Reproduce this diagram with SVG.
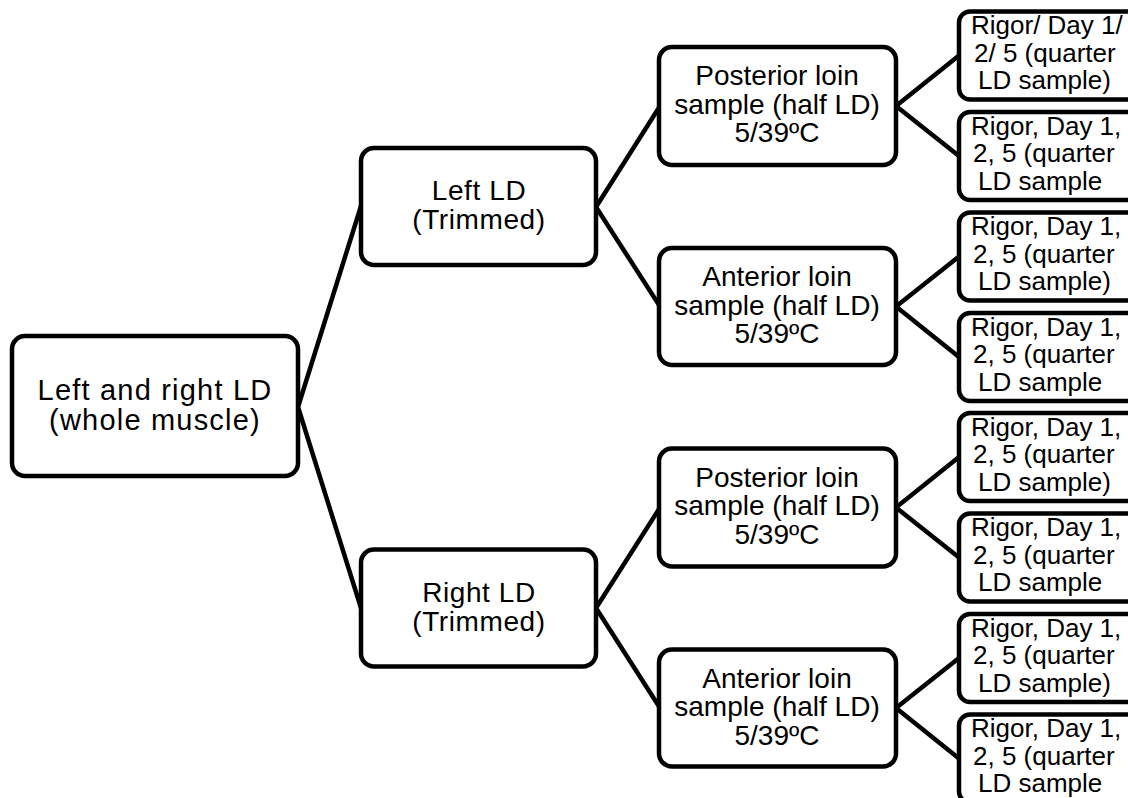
<svg xmlns="http://www.w3.org/2000/svg" width="1128" height="798" viewBox="0 0 1128 798">
<style>
  .box { fill: #fff; stroke: #000; stroke-width: 4.5; }
  .edge { stroke: #000; stroke-width: 4.5; fill: none; stroke-linecap: round; }
  text { font-family: "Liberation Sans", Arial, sans-serif; fill: #000; }
  .root { font-size: 29px; letter-spacing: 1.2px; text-anchor: middle; }
  .mid { font-size: 28px; letter-spacing: 0.6px; text-anchor: middle; }
  .smp { font-size: 28px; text-anchor: middle; }
  .leaf { font-size: 26px; }
</style>
<rect width="1128" height="798" fill="#fff"/>
<g id="connectors">
  <path class="edge" d="M298,407 L361,206 M298,407 L361,608"/>
  <path class="edge" d="M596,207 L660,106 M596,207 L660,306.5"/>
  <path class="edge" d="M596,608 L660,507.5 M596,608 L660,708"/>
  <path class="edge" d="M896,106 L959,55.5 M896,106 L959,156"/>
  <path class="edge" d="M896,306.5 L959,256.5 M896,306.5 L959,357"/>
  <path class="edge" d="M896,507.5 L959,457 M896,507.5 L959,557.5"/>
  <path class="edge" d="M896,708 L959,658 M896,708 L959,758.5"/>
</g>
<g id="root">
  <rect class="box" x="12" y="336" width="286" height="140" rx="13"/>
  <text class="root" x="155" y="400">Left and right LD</text>
  <text class="root" x="155" y="430">(whole muscle)</text>
</g>
<g id="left-ld">
  <rect class="box" x="361" y="148" width="235" height="117" rx="13"/>
  <text class="mid" x="479" y="200">Left LD</text>
  <text class="mid" x="479" y="229">(Trimmed)</text>
</g>
<g id="right-ld">
  <rect class="box" x="361" y="549.5" width="235" height="117" rx="13"/>
  <text class="mid" x="479" y="601.5">Right LD</text>
  <text class="mid" x="479" y="630.5">(Trimmed)</text>
</g>
<g id="left-posterior">
  <rect class="box" x="659" y="47" width="237" height="118" rx="13"/>
  <text class="smp" x="777" y="85">Posterior loin</text>
  <text class="smp" x="777" y="113.5">sample (half LD)</text>
  <text class="smp" x="777" y="142">5/39ºC</text>
</g>
<g id="left-anterior">
  <rect class="box" x="659" y="248" width="237" height="117" rx="13"/>
  <text class="smp" x="777" y="286">Anterior loin</text>
  <text class="smp" x="777" y="314.5">sample (half LD)</text>
  <text class="smp" x="777" y="343">5/39ºC</text>
</g>
<g id="right-posterior">
  <rect class="box" x="659" y="448.5" width="237" height="118" rx="13"/>
  <text class="smp" x="777" y="486.5">Posterior loin</text>
  <text class="smp" x="777" y="515">sample (half LD)</text>
  <text class="smp" x="777" y="543.5">5/39ºC</text>
</g>
<g id="right-anterior">
  <rect class="box" x="659" y="649.5" width="237" height="117" rx="13"/>
  <text class="smp" x="777" y="687.5">Anterior loin</text>
  <text class="smp" x="777" y="716">sample (half LD)</text>
  <text class="smp" x="777" y="744.5">5/39ºC</text>
</g>
<g id="leaf1">
  <rect class="box" x="959" y="11.5" width="190" height="88" rx="11"/>
  <text class="leaf" x="971" y="34">Rigor/ Day 1/</text>
  <text class="leaf" x="974" y="61.5">2/ 5 (quarter</text>
  <text class="leaf" x="978" y="89">LD sample)</text>
</g>
<g id="leaf2">
  <rect class="box" x="959" y="112" width="190" height="88" rx="11"/>
  <text class="leaf" x="971" y="134.5">Rigor, Day 1,</text>
  <text class="leaf" x="973" y="162">2, 5 (quarter</text>
  <text class="leaf" x="978" y="189.5">LD sample</text>
</g>
<g id="leaf3">
  <rect class="box" x="959" y="212.5" width="190" height="88" rx="11"/>
  <text class="leaf" x="971" y="235">Rigor, Day 1,</text>
  <text class="leaf" x="973" y="262.5">2, 5 (quarter</text>
  <text class="leaf" x="978" y="290">LD sample)</text>
</g>
<g id="leaf4">
  <rect class="box" x="959" y="313" width="190" height="88" rx="11"/>
  <text class="leaf" x="971" y="335.5">Rigor, Day 1,</text>
  <text class="leaf" x="973" y="363">2, 5 (quarter</text>
  <text class="leaf" x="978" y="390.5">LD sample</text>
</g>
<g id="leaf5">
  <rect class="box" x="959" y="413" width="190" height="88" rx="11"/>
  <text class="leaf" x="971" y="435.5">Rigor, Day 1,</text>
  <text class="leaf" x="973" y="463">2, 5 (quarter</text>
  <text class="leaf" x="978" y="490.5">LD sample)</text>
</g>
<g id="leaf6">
  <rect class="box" x="959" y="513.5" width="190" height="88" rx="11"/>
  <text class="leaf" x="971" y="536">Rigor, Day 1,</text>
  <text class="leaf" x="973" y="563.5">2, 5 (quarter</text>
  <text class="leaf" x="978" y="591">LD sample</text>
</g>
<g id="leaf7">
  <rect class="box" x="959" y="614" width="190" height="88" rx="11"/>
  <text class="leaf" x="971" y="636.5">Rigor, Day 1,</text>
  <text class="leaf" x="973" y="664">2, 5 (quarter</text>
  <text class="leaf" x="978" y="691.5">LD sample)</text>
</g>
<g id="leaf8">
  <rect class="box" x="959" y="714.5" width="190" height="88" rx="11"/>
  <text class="leaf" x="971" y="737">Rigor, Day 1,</text>
  <text class="leaf" x="973" y="764.5">2, 5 (quarter</text>
  <text class="leaf" x="978" y="792">LD sample</text>
</g>
</svg>
